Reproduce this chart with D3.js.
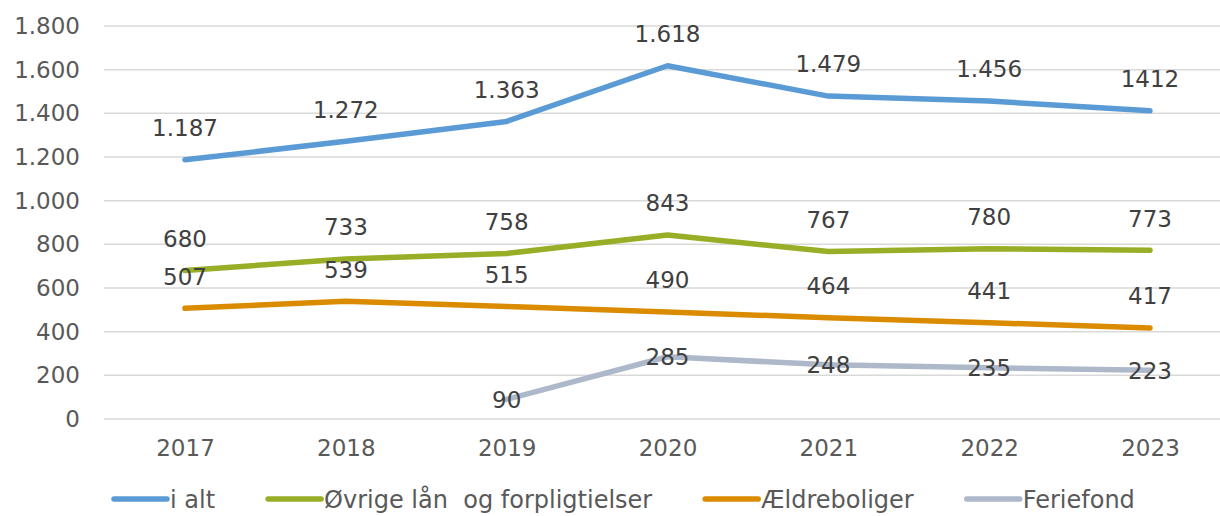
<!DOCTYPE html>
<html lang="da">
<head>
<meta charset="utf-8">
<title>Lån og forpligtelser</title>
<script src="https://cdn.jsdelivr.net/npm/d3@7"></script>
<style>
    body { margin: 0; background: #fff; }
    svg { display: block; font-family: "DejaVu Sans", Verdana, sans-serif; }
    .grid line { stroke: #d9d9d9; stroke-width: 1.5px; }
    .axis text { fill: #595959; font-size: 23px; }
    .lbl { fill: #404040; font-size: 23px; }
    .legend text { fill: #595959; font-size: 24px; white-space: pre; }
</style>
</head>
<body>
<script>
// data
var years = ['2017', '2018', '2019', '2020', '2021', '2022', '2023'];
var iAlt = [1187, 1272, 1363, 1618, 1479, 1456, 1412];
var ovrige = [680, 733, 758, 843, 767, 780, 773];
var aeldre = [507, 539, 515, 490, 464, 441, 417];
var feriefond = [null, null, 90, 285, 248, 235, 223];
var yTicks = [0, 200, 400, 600, 800, 1000, 1200, 1400, 1600, 1800];
var labelText = ['1.187', '1.272', '1.363', '1.618', '1.479', '1.456', '1412'];

var series = [
    {name: 'i alt', values: iAlt, color: '#5b9bd5', pos: 'above', text: labelText},
    {name: 'Øvrige lån  og forpligtielser', values: ovrige, color: '#97ae26', pos: 'above'},
    {name: 'Ældreboliger', values: aeldre, color: '#db8b00', pos: 'above'},
    {name: 'Feriefond', values: feriefond, color: '#adb9ca', pos: 'center'}
];

var W = 1220, H = 516;
var svg = d3.select('body').append('svg').attr('width', W).attr('height', H);

var x = d3.scalePoint().domain(years).range([185, 1150]);
var y = d3.scaleLinear().domain([0, 1800]).range([419, 26]);

var fmt = d3.formatLocale({decimal: ',', thousands: '.', grouping: [3], currency: ['', ' kr']}).format(',d');

// gridlines
svg.append('g').attr('class', 'grid')
    .selectAll('line').data(yTicks).enter().append('line')
    .attr('x1', 104).attr('x2', W)
    .attr('y1', function (d) { return y(d); })
    .attr('y2', function (d) { return y(d); });

// y axis labels
var yAxis = d3.axisLeft(y).tickValues(yTicks).tickFormat(fmt).tickSize(0).tickPadding(0);
svg.append('g').attr('class', 'axis').attr('transform', 'translate(80,0)').call(yAxis)
    .call(function (g) { g.select('.domain').remove(); });

// x axis labels
var xAxis = d3.axisBottom(x).tickSize(0).tickPadding(0);
svg.append('g').attr('class', 'axis').attr('transform', 'translate(0,440)').call(xAxis)
    .call(function (g) { g.select('.domain').remove(); });
svg.selectAll('.axis').attr('font-family', null).attr('font-size', null);

var line = d3.line()
    .defined(function (d) { return d != null; })
    .x(function (d, i) { return x(years[i]); })
    .y(function (d) { return y(d); });

series.forEach(function (s) {
    svg.append('path')
        .datum(s.values)
        .attr('fill', 'none')
        .attr('stroke', s.color)
        .attr('stroke-width', 5.5)
        .attr('stroke-linecap', 'round')
        .attr('stroke-linejoin', 'round')
        .attr('d', line);
});

// data labels
series.forEach(function (s) {
    svg.append('g').selectAll('text')
        .data(s.values.map(function (v, i) { return {v: v, i: i}; })
            .filter(function (d) { return d.v != null; }))
        .enter().append('text')
        .attr('class', 'lbl')
        .attr('text-anchor', 'middle')
        .attr('x', function (d) { return x(years[d.i]); })
        .attr('y', function (d) { return y(d.v) + (s.pos === 'above' ? -32 : 0); })
        .attr('dy', '0.36em')
        .text(function (d) { return s.text ? s.text[d.i] : fmt(d.v); });
});

// legend
var legend = svg.append('g').attr('class', 'legend');
var lx = 114, ly = 499;
series.forEach(function (s) {
    legend.append('line')
        .attr('x1', lx).attr('x2', lx + 53)
        .attr('y1', ly).attr('y2', ly)
        .attr('stroke', s.color).attr('stroke-width', 5.5)
        .attr('stroke-linecap', 'round');
    var t = legend.append('text')
        .attr('x', lx + 56).attr('y', ly).attr('dy', '0.36em')
        .text(s.name);
    lx = lx + 56 + t.node().getComputedTextLength() + 53;
});
</script>
</body>
</html>
